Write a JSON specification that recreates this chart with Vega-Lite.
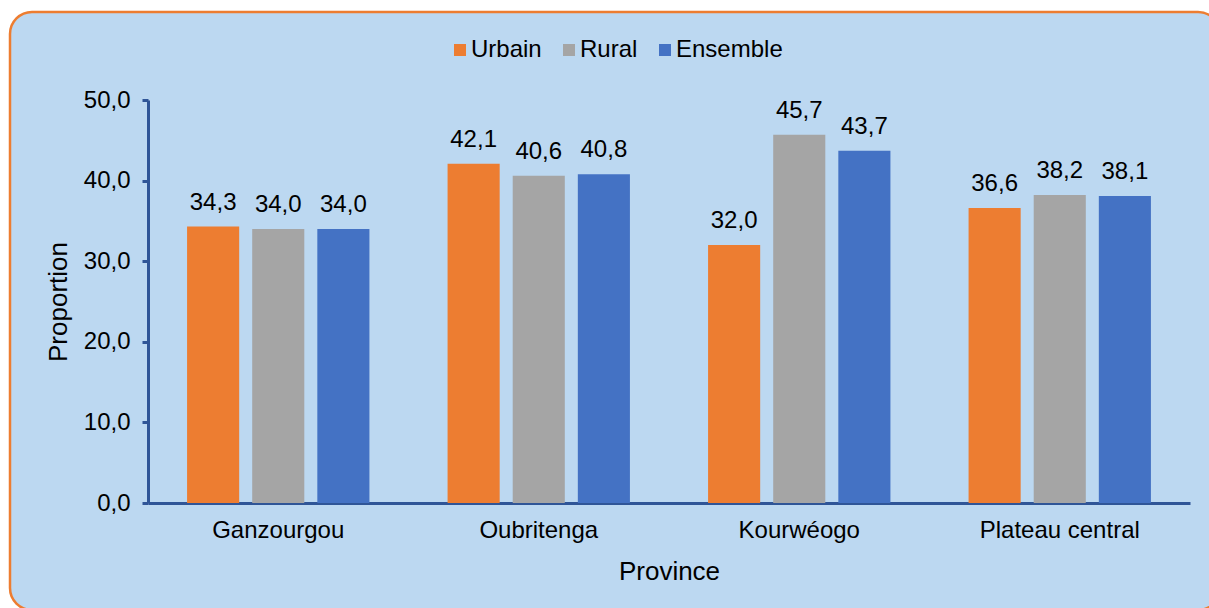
{
  "$schema": "https://vega.github.io/schema/vega-lite/v6.json",
  "width": 1210,
  "height": 598,
  "autosize": {"type": "none"},
  "padding": {"left": 10, "top": 12, "right": 0, "bottom": 0},
  "background": "white",
  "config": {
    "locale": {"number": {"decimal": ",", "thousands": " ", "grouping": [3], "currency": ["", " €"]}},
    "font": "Liberation Sans",
    "view": {"fill": "#BCD8F1", "stroke": "#ED7D31", "strokeWidth": 2.5, "cornerRadius": 22},
    "axis": {
      "labelFont": "Liberation Sans",
      "labelFontSize": 24,
      "labelColor": "#000000",
      "titleFont": "Liberation Sans",
      "titleFontSize": 26,
      "titleFontWeight": "normal",
      "titleColor": "#000000",
      "domainColor": "#2F5597",
      "domainWidth": 3,
      "tickColor": "#2F5597",
      "tickWidth": 3,
      "grid": false
    },
    "legend": {"labelFont": "Liberation Sans", "labelColor": "#000000"}
  },
  "data": {
    "values": [
      {"Province": "Ganzourgou", "Milieu": "Urbain", "Proportion": 34.3},
      {"Province": "Ganzourgou", "Milieu": "Rural", "Proportion": 34.0},
      {"Province": "Ganzourgou", "Milieu": "Ensemble", "Proportion": 34.0},
      {"Province": "Oubritenga", "Milieu": "Urbain", "Proportion": 42.1},
      {"Province": "Oubritenga", "Milieu": "Rural", "Proportion": 40.6},
      {"Province": "Oubritenga", "Milieu": "Ensemble", "Proportion": 40.8},
      {"Province": "Kourwéogo", "Milieu": "Urbain", "Proportion": 32.0},
      {"Province": "Kourwéogo", "Milieu": "Rural", "Proportion": 45.7},
      {"Province": "Kourwéogo", "Milieu": "Ensemble", "Proportion": 43.7},
      {"Province": "Plateau central", "Milieu": "Urbain", "Proportion": 36.6},
      {"Province": "Plateau central", "Milieu": "Rural", "Proportion": 38.2},
      {"Province": "Plateau central", "Milieu": "Ensemble", "Proportion": 38.1}
    ]
  },
  "encoding": {
    "x": {
      "field": "Province",
      "type": "nominal",
      "sort": ["Ganzourgou", "Oubritenga", "Kourwéogo", "Plateau central"],
      "scale": {"range": [138, 1180], "paddingInner": 0.3, "paddingOuter": 0.15},
      "axis": {"title": "Province", "labelAngle": 0, "ticks": false, "labelPadding": 15, "titlePadding": 16, "offset": -107}
    },
    "xOffset": {
      "field": "Milieu",
      "type": "nominal",
      "sort": ["Urbain", "Rural", "Ensemble"],
      "scale": {"paddingInner": 0.2, "paddingOuter": 0}
    },
    "y": {
      "field": "Proportion",
      "type": "quantitative",
      "scale": {"domain": [0, 50], "range": [491, 88], "nice": false},
      "axis": {"title": "Proportion", "values": [0, 10, 20, 30, 40, 50], "format": ".1f", "tickSize": 6, "labelPadding": 12, "titlePadding": 12, "offset": -138}
    }
  },
  "layer": [
    {
      "mark": {"type": "bar"},
      "encoding": {
        "color": {
          "field": "Milieu",
          "type": "nominal",
          "sort": ["Urbain", "Rural", "Ensemble"],
          "scale": {"domain": ["Urbain", "Rural", "Ensemble"], "range": ["#ED7D31", "#A5A5A5", "#4472C4"]},
          "legend": {
            "orient": "none",
            "legendX": 438,
            "legendY": 26,
            "direction": "horizontal",
            "title": null,
            "symbolType": "square",
            "symbolSize": 144,
            "symbolStrokeWidth": 0,
            "labelFontSize": 24,
            "labelOffset": -1,
            "columnPadding": 15
          }
        }
      }
    },
    {
      "mark": {"type": "text", "baseline": "alphabetic", "dy": -17, "fontSize": 24, "font": "Liberation Sans", "color": "#000000"},
      "encoding": {"text": {"field": "Proportion", "type": "quantitative", "format": ".1f"}}
    }
  ]
}
